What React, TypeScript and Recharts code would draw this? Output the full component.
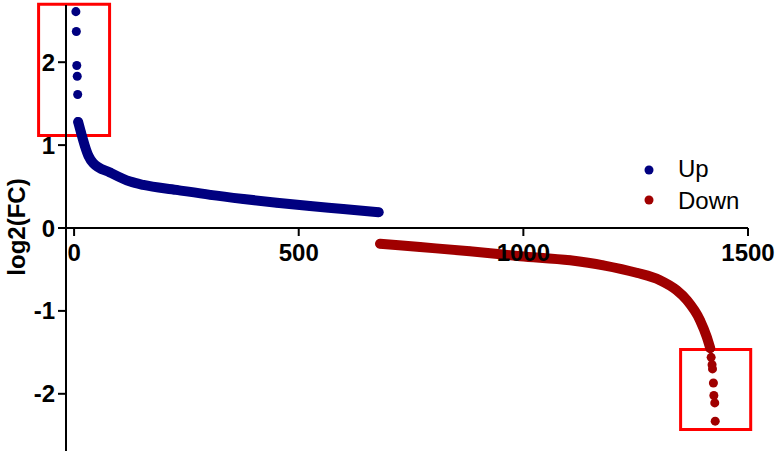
import React from "react";
import { ScatterChart, Scatter, XAxis, YAxis, ReferenceLine, ReferenceArea, Legend } from "recharts";

// values (x = gene rank, y = log2 fold change)
const upOutliers = [
  { x: 4, y: 2.61 }, { x: 5, y: 2.37 }, { x: 6, y: 1.96 }, { x: 7, y: 1.83 }, { x: 8, y: 1.61 }
];
const upCurve = [
  { x: 9, y: 1.28 }, { x: 16, y: 1.14 }, { x: 24, y: 0.99 }, { x: 32, y: 0.87 }, { x: 43, y: 0.78 },
  { x: 80, y: 0.67 }, { x: 125, y: 0.56 }, { x: 154, y: 0.52 }, { x: 228, y: 0.46 }, { x: 303, y: 0.4 },
  { x: 377, y: 0.35 }, { x: 451, y: 0.305 }, { x: 525, y: 0.265 }, { x: 599, y: 0.23 }, { x: 678, y: 0.19 }
];
const downCurve = [
  { x: 681, y: -0.19 }, { x: 770, y: -0.23 }, { x: 881, y: -0.28 }, { x: 993, y: -0.34 }, { x: 1104, y: -0.39 },
  { x: 1178, y: -0.45 }, { x: 1252, y: -0.54 }, { x: 1304, y: -0.63 }, { x: 1341, y: -0.75 }, { x: 1364, y: -0.87 },
  { x: 1393, y: -1.11 }, { x: 1408, y: -1.31 }, { x: 1416, y: -1.45 }
];
const downOutliers = [
  { x: 1418, y: -1.56 }, { x: 1420, y: -1.65 }, { x: 1421, y: -1.7 }, { x: 1423, y: -1.87 },
  { x: 1424, y: -2.02 }, { x: 1426, y: -2.11 }, { x: 1427, y: -2.33 }
];
const xTicks = [0, 500, 1000, 1500];
const yTicks = [-2, -1, 0, 1, 2];
const legendNames = ["Up", "Down"];

// highlight boxes (data coordinates)
const boxes = [
  { x1: -79, x2: 79, y1: 1.116, y2: 2.7 },
  { x1: 1350, x2: 1506, y1: -2.43, y2: -1.466 }
];

const BLUE = "#000080";
const RED = "#A00000";
const BOX = "#FF0000";
const FONT = "'Liberation Sans', Arial, sans-serif";

const W = 775;
const H = 452;
const MARGIN = { top: 5, right: 27, bottom: 0, left: 0 };
const X_AXIS_H = 1;
const Y_MIN = -2.69;
const Y_MAX = 2.69;
const PLOT_H = H - MARGIN.top - MARGIN.bottom - X_AXIS_H;
const ZERO_Y = MARGIN.top + (PLOT_H * Y_MAX) / (Y_MAX - Y_MIN);

// x axis crosses at y = 0, so ticks are drawn on the zero line
const XTick = (props: any) => {
  const { x, payload } = props;
  return (
    <g>
      <line x1={x} x2={x} y1={ZERO_Y} y2={ZERO_Y + 8} stroke="#000" strokeWidth={2} />
      <text x={x} y={ZERO_Y + 33} textAnchor="middle" fontSize={24} fontWeight="bold" fontFamily={FONT} fill="#000">
        {payload.value}
      </text>
    </g>
  );
};

const YLabel = () => (
  <text
    x={25}
    y={227}
    transform="rotate(-90 25 227)"
    textAnchor="middle"
    fontSize={24}
    fontWeight="bold"
    fontFamily={FONT}
    fill="#000"
  >
    log2(FC)
  </text>
);

const LegendBox = () => (
  <svg width={140} height={72}>
    {legendNames.map((name, i) => (
      <g key={name}>
        <circle cx={19} cy={25 + i * 30} r={4.5} fill={i === 0 ? BLUE : RED} />
        <text x={48} y={32 + i * 32} fontSize={24} fontFamily={FONT} fill="#000">
          {name}
        </text>
      </g>
    ))}
  </svg>
);

const lineStyle = (color: string) => ({
  stroke: color,
  strokeWidth: 10,
  strokeLinecap: "round",
  strokeLinejoin: "round"
});

export default function App() {
  return (
    <div style={{ position: "absolute", left: 0, top: 0, width: W, height: H, background: "#fff" }}>
      <ScatterChart width={W} height={H} margin={MARGIN}>
        <XAxis
          type="number"
          dataKey="x"
          domain={[-18, 1500]}
          ticks={xTicks}
          interval={0}
          height={X_AXIS_H}
          axisLine={false}
          tickLine={false}
          tick={XTick}
        />
        <YAxis
          type="number"
          dataKey="y"
          domain={[Y_MIN, Y_MAX]}
          ticks={yTicks}
          interval={0}
          width={66}
          tickSize={8}
          tickMargin={3}
          axisLine={{ stroke: "#000", strokeWidth: 2 }}
          tickLine={{ stroke: "#000", strokeWidth: 2 }}
          tick={{ fill: "#000", fontSize: 24, fontWeight: "bold", fontFamily: FONT }}
          label={{ content: YLabel }}
        />
        <ReferenceLine y={0} stroke="#000" strokeWidth={2} />
        {boxes.map((b, i) => (
          <ReferenceArea
            key={i}
            x1={b.x1}
            x2={b.x2}
            y1={b.y1}
            y2={b.y2}
            fill="none"
            fillOpacity={0}
            stroke={BOX}
            strokeWidth={3}
            ifOverflow="visible"
          />
        ))}
        <Scatter data={upCurve} fill={BLUE} line={lineStyle(BLUE)} lineJointType="monotoneX" isAnimationActive={false} />
        <Scatter data={upOutliers} fill={BLUE} isAnimationActive={false} />
        <Scatter data={downCurve} fill={RED} line={lineStyle(RED)} lineJointType="monotoneX" isAnimationActive={false} />
        <Scatter data={downOutliers} fill={RED} isAnimationActive={false} />
        <Legend
          layout="horizontal"
          verticalAlign="middle"
          align="center"
          wrapperStyle={{ left: 630, top: 145, width: 140, height: 72 }}
          content={LegendBox}
        />
      </ScatterChart>
    </div>
  );
}
